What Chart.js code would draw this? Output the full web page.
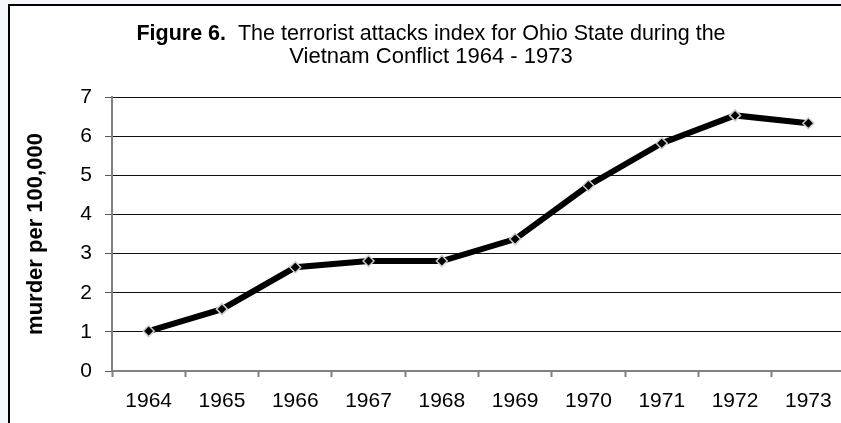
<!DOCTYPE html>
<html>
<head>
<meta charset="utf-8">
<script src="https://cdn.jsdelivr.net/npm/chart.js@4"></script>
<style>
  html, body { margin: 0; padding: 0; width: 841px; height: 423px; overflow: hidden; background: #f4f7fc; }
  #frame { position: absolute; left: 8px; top: 4px; width: 833px; height: 419px; overflow: hidden;
           border-left: 2px solid #000; border-top: 2px solid #000; background: #fff; }
  #chart { position: absolute; left: 0; top: 0; }
</style>
</head>
<body>
<div id="frame"><canvas id="chart" width="842" height="430"></canvas></div>
<script>
'use strict';

const years = ['1964', '1965', '1966', '1967', '1968', '1969', '1970', '1971', '1972', '1973'];
const murderRate = [1.02, 1.58, 2.65, 2.81, 2.81, 3.37, 4.74, 5.82, 6.53, 6.33];
const titleBold = 'Figure 6.';
const titleRest = '  The terrorist attacks index for Ohio State during the';
const titleLine2 = 'Vietnam Conflict 1964 - 1973';
const yLabel = 'murder per 100,000';

const FONT = '"Liberation Sans", Arial, sans-serif';

// title with mixed weight, Chart.js title can't do that
const figTitle = {
    id: 'figTitle',
    afterDraw(chart) {
        const ctx = chart.ctx;
        const cx = chart.width / 2;
        ctx.save();
        ctx.fillStyle = '#000';
        ctx.textBaseline = 'alphabetic';
        ctx.textAlign = 'left';

        ctx.font = 'bold 21.5px ' + FONT;
        const wb = ctx.measureText(titleBold).width;
        ctx.font = '21.5px ' + FONT;
        const wr = ctx.measureText(titleRest).width;
        const x = cx - (wb + wr) / 2;
        ctx.font = 'bold 21.5px ' + FONT;
        ctx.fillText(titleBold, x, 34);
        ctx.font = '21.5px ' + FONT;
        ctx.fillText(titleRest, x + wb, 34);

        ctx.font = '22px ' + FONT;
        ctx.textAlign = 'center';
        ctx.fillText(titleLine2, cx, 57);
        ctx.restore();
    }
};

new Chart(document.getElementById('chart'), {
    type: 'line',
    data: {
        labels: years,
        datasets: [{
            data: murderRate,
            borderColor: '#000',
            borderWidth: 6,
            tension: 0,
            pointStyle: 'rectRot',
            pointRadius: 5.5,
            pointBackgroundColor: '#000',
            pointBorderColor: '#cccccc',
            pointBorderWidth: 1.5
        }]
    },
    options: {
        responsive: false,
        animation: false,
        layout: { padding: { top: 91, right: 0, bottom: 0, left: 0 } },
        plugins: { legend: { display: false }, tooltip: { enabled: false }, title: { display: false } },
        scales: {
            x: {
                offset: true,
                afterFit: s => { s.height = 65; s.paddingLeft = 0; s.paddingRight = 0; },
                grid: { offset: true, drawOnChartArea: false, drawTicks: true, tickLength: 6, tickColor: '#808080', tickWidth: 2 },
                border: { color: '#808080', width: 2 },
                ticks: { color: '#000', font: { family: FONT, size: 21 }, padding: 12, maxRotation: 0 }
            },
            y: {
                min: 0,
                max: 7,
                afterFit: s => { s.width = 102; s.paddingTop = 0; s.paddingBottom = 0; },
                ticks: { stepSize: 1, color: '#000', font: { family: FONT, size: 21 }, padding: 13 },
                grid: { color: '#111', lineWidth: 1, tickLength: 7, tickColor: '#555' },
                border: { color: '#808080', width: 2 },
                title: {
                    display: true,
                    text: yLabel,
                    color: '#000',
                    font: { family: FONT, size: 22, weight: 'bold' },
                    padding: { top: 13, bottom: 0 }
                }
            }
        }
    },
    plugins: [figTitle]
});
</script>
</body>
</html>
